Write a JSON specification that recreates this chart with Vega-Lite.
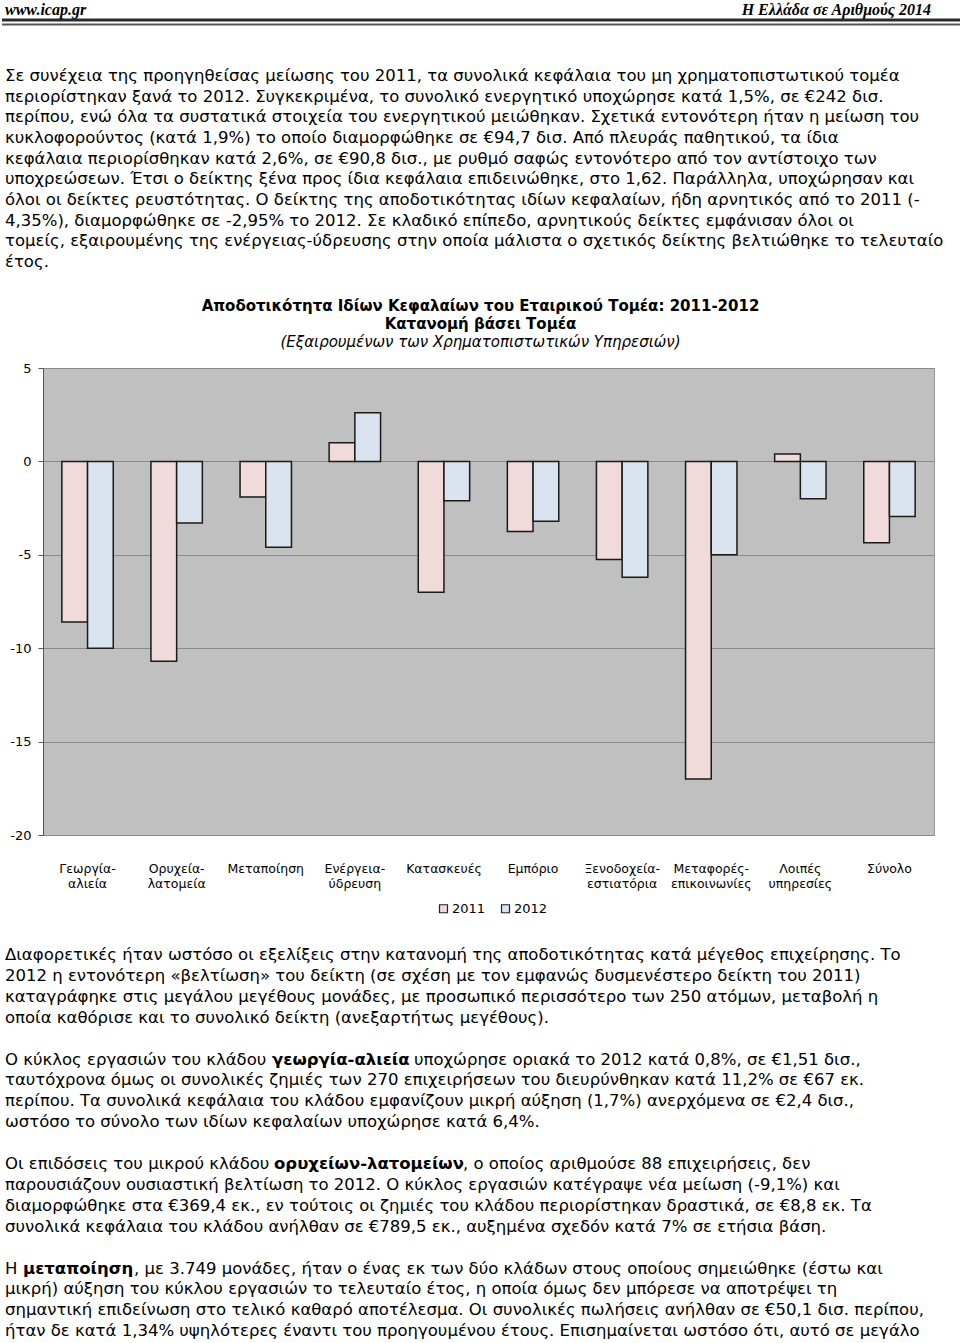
{
  "$schema": "https://vega.github.io/schema/vega-lite/v6.json",
  "padding": 0,
  "spacing": 0,
  "background": "white",
  "config": {"view": {"stroke": null}, "font": "DejaVu Sans"},
  "vconcat": [
    {
      "width": 919,
      "height": 298,
      "data": {"values": [
        {"line": 1, "text": "Σε συνέχεια της προηγηθείσας μείωσης του 2011, τα συνολικά κεφάλαια του μη χρηματοπιστωτικού τομέα"},
        {"line": 2, "text": "περιορίστηκαν ξανά το 2012. Συγκεκριμένα, το συνολικό ενεργητικό υποχώρησε κατά 1,5%, σε €242 δισ."},
        {"line": 3, "text": "περίπου, ενώ όλα τα συστατικά στοιχεία του ενεργητικού μειώθηκαν. Σχετικά εντονότερη ήταν η μείωση του"},
        {"line": 4, "text": "κυκλοφορούντος (κατά 1,9%) το οποίο διαμορφώθηκε σε €94,7 δισ. Από πλευράς παθητικού, τα ίδια"},
        {"line": 5, "text": "κεφάλαια περιορίσθηκαν κατά 2,6%, σε €90,8 δισ., με ρυθμό σαφώς εντονότερο από τον αντίστοιχο των"},
        {"line": 6, "text": "υποχρεώσεων. Έτσι ο δείκτης ξένα προς ίδια κεφάλαια επιδεινώθηκε, στο 1,62. Παράλληλα, υποχώρησαν και"},
        {"line": 7, "text": "όλοι οι δείκτες ρευστότητας. Ο δείκτης της αποδοτικότητας ιδίων κεφαλαίων, ήδη αρνητικός από το 2011 (-"},
        {"line": 8, "text": "4,35%), διαμορφώθηκε σε -2,95% το 2012. Σε κλαδικό επίπεδο, αρνητικούς δείκτες εμφάνισαν όλοι οι"},
        {"line": 9, "text": "τομείς, εξαιρουμένης της ενέργειας-ύδρευσης στην οποία μάλιστα ο σχετικός δείκτης βελτιώθηκε το τελευταίο"},
        {"line": 10, "text": "έτος."}
      ]},
      "layer": [
        {
          "mark": {"type": "text", "align": "left", "baseline": "middle", "fontSize": 16.5, "font": "DejaVu Sans", "color": "black"},
          "encoding": {
            "x": {"datum": 3, "type": "quantitative", "scale": {"domain": [41, 960], "nice": false, "zero": false}, "axis": null},
            "y": {"field": "line", "type": "quantitative", "scale": {"domain": [-2.68, 11.751], "reverse": true, "nice": false, "zero": false}, "axis": null},
            "text": {"field": "text"}
          }
        },
        {
          "data": {"values": [{"text": "www.icap.gr"}]},
          "mark": {"type": "text", "align": "left", "baseline": "middle", "fontSize": 16, "font": "Liberation Serif", "fontStyle": "italic", "fontWeight": "bold", "color": "black"},
          "encoding": {
            "x": {"datum": 3, "type": "quantitative"},
            "y": {"datum": -2.2, "type": "quantitative"},
            "text": {"field": "text"}
          }
        },
        {
          "data": {"values": [{"text": "Η Ελλάδα σε Αριθμούς 2014"}]},
          "mark": {"type": "text", "align": "right", "baseline": "middle", "fontSize": 16, "font": "Liberation Serif", "fontStyle": "italic", "fontWeight": "bold", "color": "black"},
          "encoding": {
            "x": {"datum": 929, "type": "quantitative"},
            "y": {"datum": -2.2, "type": "quantitative"},
            "text": {"field": "text"}
          }
        },
        {
          "data": {"values": [{"k": "a"}]},
          "mark": {"type": "rule", "color": "#2a2a2a", "strokeWidth": 3},
          "encoding": {
            "x": {"datum": 0, "type": "quantitative"},
            "x2": {"datum": 958},
            "y": {"datum": -1.71, "type": "quantitative"}
          }
        },
        {
          "data": {"values": [{"k": "b"}]},
          "mark": {"type": "rule", "color": "#555555", "strokeWidth": 2},
          "encoding": {
            "x": {"datum": 0, "type": "quantitative"},
            "x2": {"datum": 958},
            "y": {"datum": -1.49, "type": "quantitative"}
          }
        }
      ]
    },
    {
      "width": 891,
      "height": 467,
      "view": {"fill": "#c0c0c0", "stroke": "#999999", "strokeWidth": 1},
      "title": {
        "text": ["Αποδοτικότητα Ιδίων Κεφαλαίων του Εταιρικού Τομέα: 2011-2012", "Κατανομή βάσει Τομέα"],
        "subtitle": "(Εξαιρουμένων των Χρηματοπιστωτικών Υπηρεσιών)",
        "font": "DejaVu Sans",
        "fontSize": 15,
        "fontWeight": "bold",
        "color": "black",
        "lineHeight": 18,
        "subtitleFont": "DejaVu Sans",
        "subtitleFontSize": 15,
        "subtitleFontStyle": "italic",
        "subtitleColor": "black",
        "subtitlePadding": 3,
        "anchor": "middle",
        "frame": "group",
        "dx": -8,
        "offset": 12
      },
      "data": {"values": [
        {"sector": "Γεωργία-|αλιεία", "year": "2011", "value": -8.6},
        {"sector": "Γεωργία-|αλιεία", "year": "2012", "value": -10.0},
        {"sector": "Ορυχεία-|λατομεία", "year": "2011", "value": -10.7},
        {"sector": "Ορυχεία-|λατομεία", "year": "2012", "value": -3.3},
        {"sector": "Μεταποίηση", "year": "2011", "value": -1.9},
        {"sector": "Μεταποίηση", "year": "2012", "value": -4.6},
        {"sector": "Ενέργεια-|ύδρευση", "year": "2011", "value": 1.0},
        {"sector": "Ενέργεια-|ύδρευση", "year": "2012", "value": 2.6},
        {"sector": "Κατασκευές", "year": "2011", "value": -7.0},
        {"sector": "Κατασκευές", "year": "2012", "value": -2.1},
        {"sector": "Εμπόριο", "year": "2011", "value": -3.75},
        {"sector": "Εμπόριο", "year": "2012", "value": -3.2},
        {"sector": "Ξενοδοχεία-|εστιατόρια", "year": "2011", "value": -5.25},
        {"sector": "Ξενοδοχεία-|εστιατόρια", "year": "2012", "value": -6.2},
        {"sector": "Μεταφορές-|επικοινωνίες", "year": "2011", "value": -17.0},
        {"sector": "Μεταφορές-|επικοινωνίες", "year": "2012", "value": -5.0},
        {"sector": "Λοιπές|υπηρεσίες", "year": "2011", "value": 0.4},
        {"sector": "Λοιπές|υπηρεσίες", "year": "2012", "value": -2.0},
        {"sector": "Σύνολο", "year": "2011", "value": -4.35},
        {"sector": "Σύνολο", "year": "2012", "value": -2.95}
      ]},
      "mark": {"type": "bar", "stroke": "#1a1a1a", "strokeWidth": 1.5},
      "encoding": {
        "x": {
          "field": "sector", "type": "nominal", "sort": null,
          "scale": {"paddingInner": 0.423, "paddingOuter": 0.2115},
          "axis": {"title": null, "labelAngle": 0, "labelExpr": "split(datum.label, '|')", "labelFontSize": 12.5, "labelColor": "black", "labelPadding": 27, "labelBaseline": "top", "labelLineHeight": 15, "ticks": false, "domain": false, "labelFont": "DejaVu Sans"}
        },
        "xOffset": {"field": "year", "type": "nominal", "sort": ["2011", "2012"]},
        "y": {
          "field": "value", "type": "quantitative",
          "scale": {"domain": [-20, 5], "nice": false},
          "axis": {"title": null, "values": [-20, -15, -10, -5, 0, 5], "labelExpr": "replace(datum.label, '−', '-')", "grid": true, "gridColor": "#8a8a8a", "gridWidth": 1.2, "tickColor": "#555555", "tickSize": 5, "domainColor": "#555555", "labelFontSize": 13, "labelPadding": 7, "minExtent": 41, "maxExtent": 41, "labelColor": "black", "labelFont": "DejaVu Sans"}
        },
        "fill": {
          "field": "year", "type": "nominal",
          "scale": {"domain": ["2011", "2012"], "range": ["#f0dada", "#dae3f0"]},
          "legend": {"title": null, "orient": "none", "legendX": 394, "legendY": 902, "direction": "horizontal", "symbolType": "square", "symbolSize": 64, "symbolStrokeColor": "#222222", "symbolStrokeWidth": 1.2, "labelFontSize": 13, "labelColor": "black", "labelFont": "DejaVu Sans", "columnPadding": 13, "labelOffset": 2}
        }
      }
    },
    {
      "width": 919,
      "height": 454,
      "data": {"values": [
        {"line": 1, "kind": "p", "text": "Διαφορετικές ήταν ωστόσο οι εξελίξεις στην κατανομή της αποδοτικότητας κατά μέγεθος επιχείρησης. Το"},
        {"line": 2, "kind": "p", "text": "2012 η εντονότερη «βελτίωση» του δείκτη (σε σχέση με τον εμφανώς δυσμενέστερο δείκτη του 2011)"},
        {"line": 3, "kind": "p", "text": "καταγράφηκε στις μεγάλου μεγέθους μονάδες, με προσωπικό περισσότερο των 250 ατόμων, μεταβολή η"},
        {"line": 4, "kind": "p", "text": "οποία καθόρισε και το συνολικό δείκτη (ανεξαρτήτως μεγέθους)."},
        {"line": 6, "kind": "p", "text": "Ο κύκλος εργασιών του κλάδου"},
        {"line": 6, "kind": "b1", "text": "γεωργία-αλιεία"},
        {"line": 6, "kind": "s1", "text": "υποχώρησε οριακά το 2012 κατά 0,8%, σε €1,51 δισ.,"},
        {"line": 7, "kind": "p", "text": "ταυτόχρονα όμως οι συνολικές ζημιές των 270 επιχειρήσεων του διευρύνθηκαν κατά 11,2% σε €67 εκ."},
        {"line": 8, "kind": "p", "text": "περίπου. Τα συνολικά κεφάλαια του κλάδου εμφανίζουν μικρή αύξηση (1,7%) ανερχόμενα σε €2,4 δισ.,"},
        {"line": 9, "kind": "p", "text": "ωστόσο το σύνολο των ιδίων κεφαλαίων υποχώρησε κατά 6,4%."},
        {"line": 11, "kind": "p", "text": "Οι επιδόσεις του μικρού κλάδου"},
        {"line": 11, "kind": "b2", "text": "ορυχείων-λατομείων"},
        {"line": 11, "kind": "s2", "text": ", ο οποίος αριθμούσε 88 επιχειρήσεις, δεν"},
        {"line": 12, "kind": "p", "text": "παρουσιάζουν ουσιαστική βελτίωση το 2012. Ο κύκλος εργασιών κατέγραψε νέα μείωση (-9,1%) και"},
        {"line": 13, "kind": "p", "text": "διαμορφώθηκε στα €369,4 εκ., εν τούτοις οι ζημιές του κλάδου περιορίστηκαν δραστικά, σε €8,8 εκ. Τα"},
        {"line": 14, "kind": "p", "text": "συνολικά κεφάλαια του κλάδου ανήλθαν σε €789,5 εκ., αυξημένα σχεδόν κατά 7% σε ετήσια βάση."},
        {"line": 16, "kind": "p", "text": "Η"},
        {"line": 16, "kind": "b3", "text": "μεταποίηση"},
        {"line": 16, "kind": "s3", "text": ", με 3.749 μονάδες, ήταν ο ένας εκ των δύο κλάδων στους οποίους σημειώθηκε (έστω και"},
        {"line": 17, "kind": "p", "text": "μικρή) αύξηση του κύκλου εργασιών το τελευταίο έτος, η οποία όμως δεν μπόρεσε να αποτρέψει τη"},
        {"line": 18, "kind": "p", "text": "σημαντική επιδείνωση στο τελικό καθαρό αποτέλεσμα. Οι συνολικές πωλήσεις ανήλθαν σε €50,1 δισ. περίπου,"},
        {"line": 19, "kind": "p", "text": "ήταν δε κατά 1,34% υψηλότερες έναντι του προηγουμένου έτους. Επισημαίνεται ωστόσο ότι, αυτό σε μεγάλο"}
      ]},
      "layer": [
        {
          "transform": [{"filter": "datum.kind == 'p'"}],
          "mark": {"type": "text", "align": "left", "baseline": "middle", "fontSize": 16.5, "font": "DejaVu Sans", "color": "black"},
          "encoding": {
            "x": {"datum": 3, "type": "quantitative", "scale": {"domain": [41, 960], "nice": false, "zero": false}, "axis": null},
            "y": {"field": "line", "type": "quantitative", "scale": {"domain": [-2.11, 19.612], "reverse": true, "nice": false, "zero": false}, "axis": null},
            "text": {"field": "text"}
          }
        },
        {
          "transform": [{"filter": "datum.kind == 'b1'"}],
          "mark": {"type": "text", "align": "left", "baseline": "middle", "fontSize": 16.5, "font": "DejaVu Sans", "fontWeight": "bold", "color": "black"},
          "encoding": {
            "x": {"datum": 270, "type": "quantitative"},
            "y": {"field": "line", "type": "quantitative"},
            "text": {"field": "text"}
          }
        },
        {
          "transform": [{"filter": "datum.kind == 's1'"}],
          "mark": {"type": "text", "align": "left", "baseline": "middle", "fontSize": 16.5, "font": "DejaVu Sans", "color": "black"},
          "encoding": {
            "x": {"datum": 412, "type": "quantitative"},
            "y": {"field": "line", "type": "quantitative"},
            "text": {"field": "text"}
          }
        },
        {
          "transform": [{"filter": "datum.kind == 'b2'"}],
          "mark": {"type": "text", "align": "left", "baseline": "middle", "fontSize": 16.5, "font": "DejaVu Sans", "fontWeight": "bold", "color": "black"},
          "encoding": {
            "x": {"datum": 272, "type": "quantitative"},
            "y": {"field": "line", "type": "quantitative"},
            "text": {"field": "text"}
          }
        },
        {
          "transform": [{"filter": "datum.kind == 's2'"}],
          "mark": {"type": "text", "align": "left", "baseline": "middle", "fontSize": 16.5, "font": "DejaVu Sans", "color": "black"},
          "encoding": {
            "x": {"datum": 461, "type": "quantitative"},
            "y": {"field": "line", "type": "quantitative"},
            "text": {"field": "text"}
          }
        },
        {
          "transform": [{"filter": "datum.kind == 'b3'"}],
          "mark": {"type": "text", "align": "left", "baseline": "middle", "fontSize": 16.5, "font": "DejaVu Sans", "fontWeight": "bold", "color": "black"},
          "encoding": {
            "x": {"datum": 21, "type": "quantitative"},
            "y": {"field": "line", "type": "quantitative"},
            "text": {"field": "text"}
          }
        },
        {
          "transform": [{"filter": "datum.kind == 's3'"}],
          "mark": {"type": "text", "align": "left", "baseline": "middle", "fontSize": 16.5, "font": "DejaVu Sans", "color": "black"},
          "encoding": {
            "x": {"datum": 132, "type": "quantitative"},
            "y": {"field": "line", "type": "quantitative"},
            "text": {"field": "text"}
          }
        }
      ]
    }
  ]
}
